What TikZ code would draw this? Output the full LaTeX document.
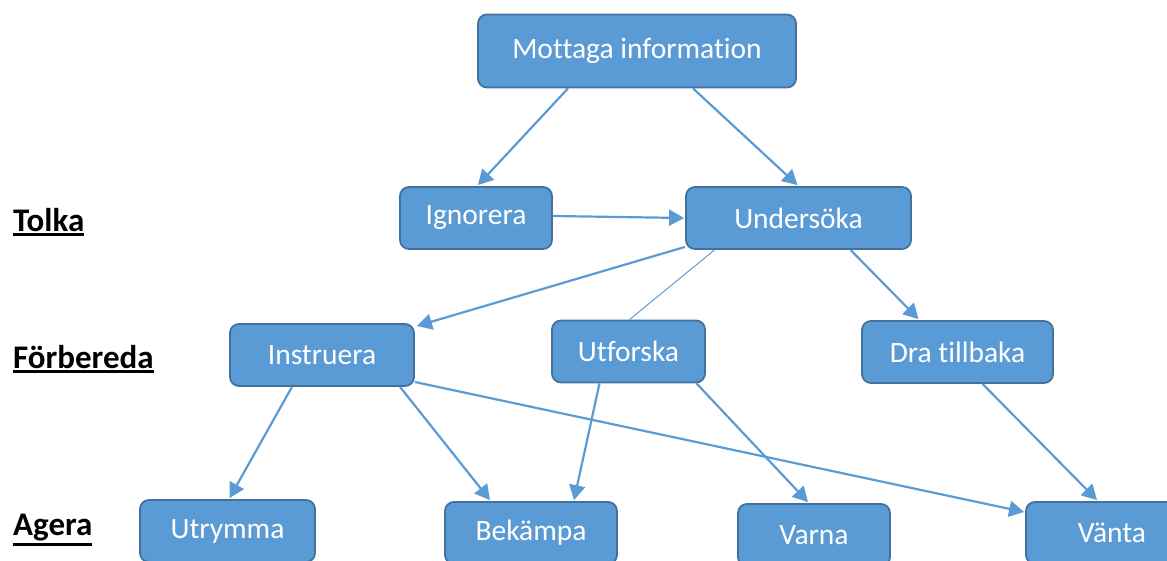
\documentclass[tikz,border=0pt]{standalone}
\usepackage{fontspec}
\setmainfont{Carlito}[Ligatures=CommonOff]
\usetikzlibrary{arrows.meta,calc}
\definecolor{boxfill}{HTML}{5B9BD5}
\definecolor{boxline}{HTML}{41719C}
\newcommand\myul[1]{\vtop{\hbox{#1}\kern1.5pt\hrule height 2.6pt}}
\tikzset{
  box/.style={draw=boxline, line width=1.8pt, fill=boxfill, rounded corners=9pt,
    text=white, font=\fontsize{29.5}{34}\selectfont, inner sep=0pt, minimum height=62pt},
  arr/.style={draw=boxfill, line width=2.2pt, -{Triangle[width=16pt,length=15pt]}},
  thin/.style={draw=boxfill, line width=1pt},
  lev/.style={anchor=west, font=\fontsize{33}{38}\selectfont\bfseries, inner sep=0pt}
}
\begin{document}
\begin{tikzpicture}[x=1pt,y=-1pt]
\useasboundingbox (0,0) rectangle (1167,561);
% nodes
\node[box, minimum width=318pt, minimum height=73pt] (mott) at (637,51) {Mottaga information};
\node[box, minimum width=152pt] (ign) at (476,218) {Ignorera};
\node[box, minimum width=225pt] (und) at (798.5,218) {Undersöka};
\node[box, minimum width=184pt] (ins) at (322,355) {Instruera};
\node[box, minimum width=153pt] (utf) at (628.5,351.5) {Utforska};
\node[box, minimum width=191pt] (dra) at (957.5,352) {Dra tillbaka};
\node[box, minimum width=175pt] (utr) at (227.5,531) {Utrymma};
\node[box, minimum width=172pt] (bek) at (531,533) {Bekämpa};
\node[box, minimum width=152pt] (var) at (814,535) {Varna};
\node[box, minimum width=172pt] (van) at (1112,533) {Vänta};
% level labels
\node[lev] (tolka) at (13,222) {\myul{Tolka}};
\node[lev] (forb) at (13,359) {\myul{Förbereda}};
\node[lev] (agera) at (13,530) {\myul{Agera}};
% connectors
\draw[arr] ([xshift=-69pt]mott.south) -- ([xshift=2pt,yshift=1pt]ign.north);
\draw[arr] ([xshift=56pt]mott.south) -- ([xshift=-1pt,yshift=1pt]und.north);
\draw[arr] ([yshift=2pt]ign.east) -- ([xshift=-1pt]und.west);
\draw[arr] ([yshift=3pt]und.south west) -- ([xshift=2pt,yshift=29pt]ins.east);
\draw[thin] ([xshift=-84pt]und.south) -- ([xshift=1pt]utf.north);
\draw[arr] ([xshift=52pt]und.south) -- ([xshift=-39pt,yshift=1pt]dra.north);
\draw[arr] ([xshift=-30pt]ins.south) -- ([xshift=2pt,yshift=1pt]utr.north);
\draw[arr] ([xshift=78pt]ins.south) -- ([xshift=-41pt,yshift=1pt]bek.north);
\draw[arr] ([yshift=-27pt]ins.east) -- ([xshift=-1pt,yshift=21pt]van.west);
\draw[arr] ([xshift=-29pt]utf.south) -- ([xshift=43pt,yshift=1pt]bek.north);
\draw[arr] ([xshift=68pt]utf.south) -- ([xshift=-6pt,yshift=1pt]var.north);
\draw[arr] ([xshift=25pt]dra.south) -- ([xshift=-15pt,yshift=1pt]van.north);
\end{tikzpicture}
\end{document}
